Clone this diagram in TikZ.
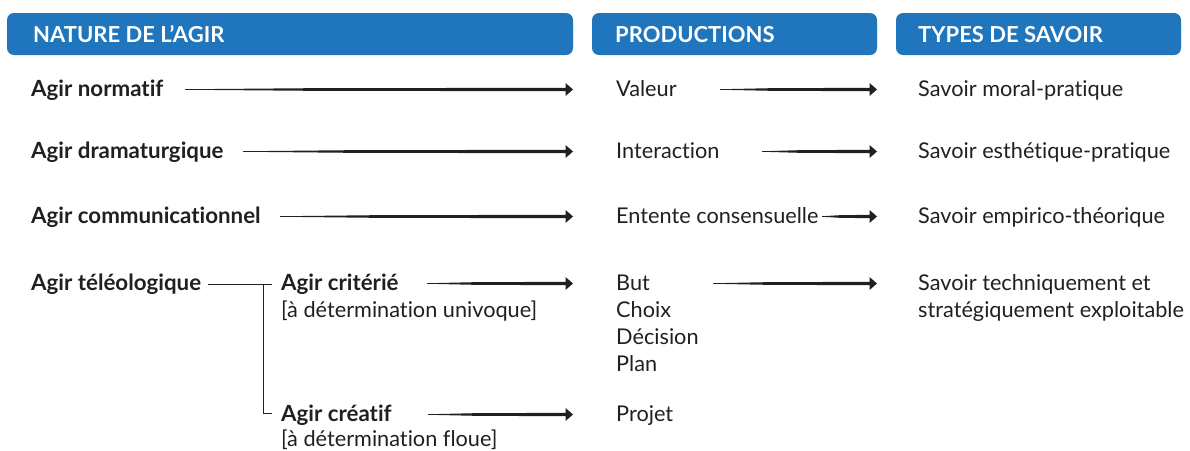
\documentclass[tikz,border=0pt]{standalone}
\usepackage{fontspec}
\setmainfont{Lato}[Ligatures=NoCommon]
\usetikzlibrary{calc}
\definecolor{tabblue}{RGB}{31,118,188}
\definecolor{ink}{RGB}{35,31,32}

% tapered brush stroke ending in a small triangular head
\newcommand\brusharrow[2]{%
  \fill[ink] let \p1=(#1), \p2=(#2) in
    (\x1,{\y1+0.25pt}) -- ({\x1+0.35*(\x2-\x1)},{\y1+1.4pt})
    -- ({\x2-7.5pt},{\y2+1.6pt}) -- ({\x2-7.5pt},{\y2+6.5pt}) -- (\x2,\y2)
    -- ({\x2-7.5pt},{\y2-6.5pt}) -- ({\x2-7.5pt},{\y2-1.6pt})
    -- ({\x1+0.35*(\x2-\x1)},{\y1-1.4pt}) -- (\x1,{\y1-0.25pt}) -- cycle;}

\begin{document}
\begin{tikzpicture}[x=1pt,y=-1pt,
  tab/.style={fill=tabblue,rounded corners=7pt},
  head/.style={anchor=base west,inner sep=0pt,text=white,
    font=\fontsize{22}{26}\selectfont\bfseries},
  lbl/.style={anchor=base west,inner sep=0pt,text=ink,
    font=\fontsize{21.7}{27}\selectfont},
  blbl/.style={lbl,font=\fontsize{22.3}{27}\selectfont\bfseries},
  bracket/.style={draw=ink,line width=0.9pt}]
\useasboundingbox (0,0) rectangle (1190,450);

% column headers
\fill[tab] (7,13) rectangle (573,55);
\fill[tab] (592,13) rectangle (877,55);
\fill[tab] (896,13) rectangle (1181,55);
\node[head] (h1) at (33,42) {NATURE DE L’AGIR};
\node[head] (h2) at (615,42) {PRODUCTIONS};
\node[head] (h3) at (918,42) {TYPES DE SAVOIR};

% nature de l'agir
\node[blbl] (a1) at (31,96) {Agir normatif};
\node[blbl] (a2) at (31,158) {Agir dramaturgique};
\node[blbl] (a3) at (31,223) {Agir communicationnel};
\node[blbl] (a4) at (31,290) {Agir téléologique};
\node[blbl] (a5) at (281,290) {Agir critérié};
\node[lbl]  (a5s) at (281,317) {[à détermination univoque]};
\node[blbl] (a6) at (281,421) {Agir créatif};
\node[lbl]  (a6s) at (281,446) {[à détermination floue]};

% productions
\node[lbl] (p1) at (616,96) {Valeur};
\node[lbl] (p2) at (616,158) {Interaction};
\node[lbl] (p3) at (616,223) {Entente consensuelle};
\node[lbl] (p4) at (616,290) {But};
\node[lbl] (p4b) at (616,317) {Choix};
\node[lbl] (p4c) at (616,344) {Décision};
\node[lbl] (p4d) at (616,371) {Plan};
\node[lbl] (p5) at (616,421) {Projet};

% types de savoir
\node[lbl] (s1) at (918,96) {Savoir moral-pratique};
\node[lbl] (s2) at (918,158) {Savoir esthétique-pratique};
\node[lbl] (s3) at (918,223) {Savoir empirico-théorique};
\node[lbl] (s4) at (918,290) {Savoir techniquement et};
\node[lbl] (s4b) at (918,317) {stratégiquement exploitable};

% arrow end points
\coordinate (a1o) at (185,89.5);  \coordinate (p1i) at (573,89.5);
\coordinate (p1o) at (720,89.5);  \coordinate (s1i) at (877,89.5);
\coordinate (a2o) at (243,151.5); \coordinate (p2i) at (573,151.5);
\coordinate (p2o) at (762,151.5); \coordinate (s2i) at (877,151.5);
\coordinate (a3o) at (280,216.5); \coordinate (p3i) at (573,216.5);
\coordinate (p3o) at (822,216.5); \coordinate (s3i) at (877,216.5);
\coordinate (a5o) at (427,283.5); \coordinate (p4i) at (573,283.5);
\coordinate (p4o) at (713,283.5); \coordinate (s4i) at (877,283.5);
\coordinate (a6o) at (428,414.5); \coordinate (p5i) at (573,414.5);

\brusharrow{a1o}{p1i} \brusharrow{p1o}{s1i}
\brusharrow{a2o}{p2i} \brusharrow{p2o}{s2i}
\brusharrow{a3o}{p3i} \brusharrow{p3o}{s3i}
\brusharrow{a5o}{p4i} \brusharrow{p4o}{s4i}
\brusharrow{a6o}{p5i}

% branching of the teleological action
\coordinate (t0) at (208,284);
\coordinate (t1) at (272,284);
\coordinate (tj) at (263,284);
\coordinate (tb) at (263,413);
\coordinate (t2) at (272,413);
\draw[bracket] (t0) -- (t1);
\draw[bracket] (tj) -- (tb) -- (t2);
\end{tikzpicture}
\end{document}
